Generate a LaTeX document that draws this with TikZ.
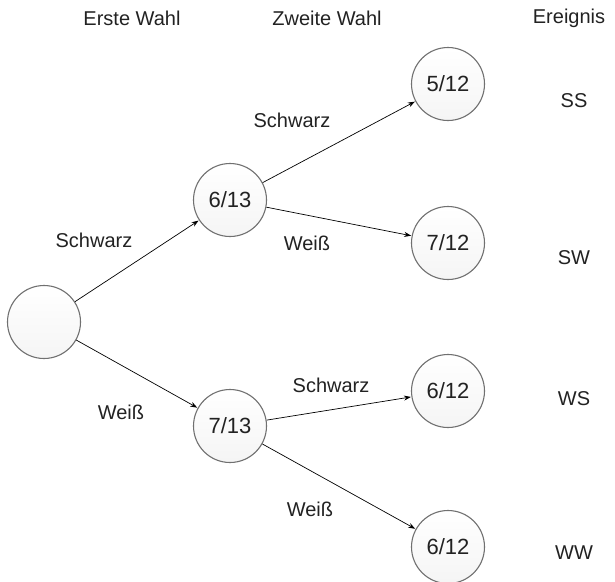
\documentclass[tikz,border=0pt]{standalone}
\usepackage{fontspec}
\setmainfont{Liberation Sans}
\usetikzlibrary{arrows.meta}
\definecolor{ringgray}{HTML}{707070}
\definecolor{inkgray}{HTML}{222222}
\begin{document}
\begin{tikzpicture}[x=1pt,y=-1pt,
  state/.style={circle,draw=ringgray,line width=1.1pt,minimum size=73pt,inner sep=0pt,
    top color=white,bottom color=black!4,font=\fontsize{22}{24}\selectfont,text=inkgray},
  lbl/.style={font=\fontsize{20}{22}\selectfont,text=inkgray,inner sep=0pt},
  branch/.style={draw=black,line width=0.7pt,-{Stealth[length=7pt,width=5pt]},shorten >=0.5pt}]
  \useasboundingbox (0,0) rectangle (615,581);

  % column headings
  \node[lbl] (h1) at (132,18) {Erste Wahl};
  \node[lbl] (h2) at (327,18) {Zweite Wahl};
  \node[lbl] (h3) at (569,18) {Ereignis};

  % tree nodes
  \node[state] (root) at (44,322) {};
  \node[state] (s1) at (230,200) {6/13};
  \node[state] (w1) at (230,426) {7/13};
  \node[state] (ss) at (448,84) {5/12};
  \node[state] (sw) at (448,243) {7/12};
  \node[state] (ws) at (448,391) {6/12};
  \node[state] (ww) at (448,547) {6/12};

  % branches
  \draw[branch] (root) -- (s1);
  \draw[branch] (root) -- (w1);
  \draw[branch] (s1) -- (ss);
  \draw[branch] (s1) -- (sw);
  \draw[branch] (w1) -- (ws);
  \draw[branch] (w1) -- (ww);

  % branch labels
  \node[lbl] (l1) at (94,240) {Schwarz};
  \node[lbl] (l2) at (121,412) {Weiß};
  \node[lbl] (l3) at (292,120) {Schwarz};
  \node[lbl] (l4) at (307,243) {Weiß};
  \node[lbl] (l5) at (331,385) {Schwarz};
  \node[lbl] (l6) at (310,509) {Weiß};

  % outcomes
  \node[lbl] (e1) at (574,101) {SS};
  \node[lbl] (e2) at (574,258) {SW};
  \node[lbl] (e3) at (574,399) {WS};
  \node[lbl] (e4) at (574,553) {WW};
\end{tikzpicture}
\end{document}
